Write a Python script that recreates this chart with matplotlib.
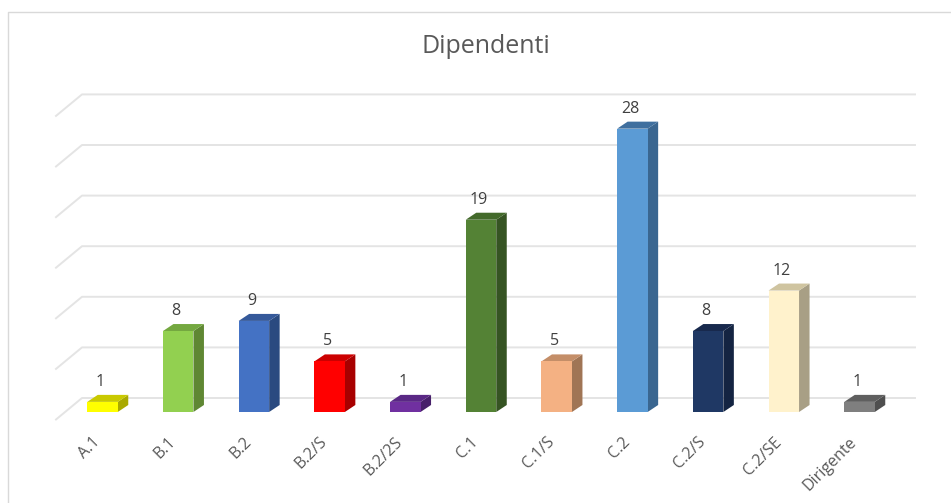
import matplotlib
matplotlib.use("Agg")
import matplotlib.pyplot as plt
from matplotlib.lines import Line2D
from matplotlib.patches import Polygon

plt.rcParams["font.family"] = ["Open Sans", "DejaVu Sans"]

# -- dati --
categorie = ["A.1", "B.1", "B.2", "B.2/S", "B.2/2S", "C.1", "C.1/S", "C.2", "C.2/S", "C.2/SE", "Dirigente"]
valori = [1, 8, 9, 5, 1, 19, 5, 28, 8, 12, 1]
griglia = [0, 5, 10, 15, 20, 25, 30]

colori_fronte = ["#FFFF00", "#92D050", "#4472C4", "#FF0000", "#7030A0", "#548235",
                 "#F4B183", "#5B9BD5", "#1F3864", "#FFF2CC", "#7F7F7F"]
colori_lato = ["#A9A900", "#5F8733", "#2A4A80", "#A80000", "#47206A", "#365423",
               "#A07555", "#3A6690", "#142442", "#A89F85", "#4F4F4F"]
colori_sopra = ["#C9C900", "#74A840", "#35599A", "#CC0000", "#5A2885", "#436A2B",
                "#C48E68", "#3F6F9E", "#18294D", "#CFC4A0", "#5F5F5F"]

# -- scale: pixel per categoria e per unita --
W, H = 951, 503
PX_X = 75.7
PX_Y = 10.12
X0 = 102.5
Y0 = 412

fig = plt.figure(figsize=(W / 100, H / 100), dpi=100)
ax = fig.add_axes([0, 0, 1, 1])
ax.set_xlim(-X0 / PX_X, (W - X0) / PX_X)
ax.set_ylim(-(H - Y0) / PX_Y, Y0 / PX_Y)
ax.axis("off")

larg = 30.5 / PX_X
dx = 10.5 / PX_X
dy = 7 / PX_Y

# griglia sulla parete e sul lato sinistro
muro_y = 14 / PX_Y
sx = (82 - X0) / PX_X
sx2 = (56 - X0) / PX_X
dx_fine = (915 - X0) / PX_X
for g in griglia:
    yy = g + muro_y
    ax.plot([sx2, sx, dx_fine], [yy - 21.5 / PX_Y, yy, yy], color="#E4E4E4", lw=1.4, zorder=1)

# barre 3D
x = list(range(len(valori)))
ax.bar(x, valori, width=larg, color=colori_fronte, zorder=3)
for i, v in enumerate(valori):
    l = i - larg / 2
    r = i + larg / 2
    ax.add_patch(Polygon([(r, 0), (r + dx, dy), (r + dx, v + dy), (r, v)],
                         closed=True, facecolor=colori_lato[i], edgecolor="none", zorder=2))
    ax.add_patch(Polygon([(l, v), (r, v), (r + dx, v + dy), (l + dx, v + dy)],
                         closed=True, facecolor=colori_sopra[i], edgecolor="none", zorder=2))
    ax.text(i - 0.03, v + 20 / PX_Y, str(v), ha="center", va="center", fontsize=11.5, color="#404040", zorder=4)
    ax.text(i - 0.14, -22 / PX_Y, categorie[i], rotation=45, rotation_mode="anchor",
            ha="right", va="top", fontsize=11.5, color="#595959")

fig.text(486 / W, 1 - 46 / H, "Dipendenti", ha="center", va="center", fontsize=18, color="#595959")

# cornice
fig.add_artist(Line2D([8 / W, 8 / W, 1], [0, 1 - 12 / H, 1 - 12 / H], color="#D9D9D9", lw=1))

fig.savefig("out.png", dpi=100)
